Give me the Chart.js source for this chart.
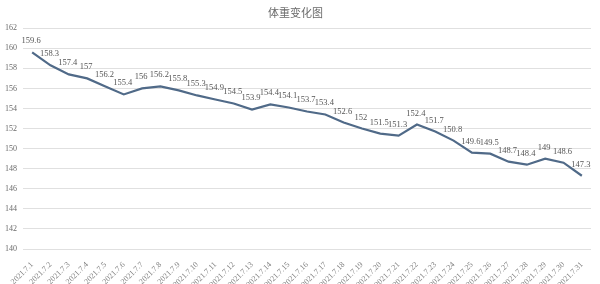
<!DOCTYPE html>
<html>
<head>
<meta charset="utf-8">
<script src="https://cdn.jsdelivr.net/npm/chart.js@4"></script>
<style>
  html, body { margin: 0; padding: 0; background: #fff; }
  #chart { display: block; }
</style>
</head>
<body>
<canvas id="chart" width="600" height="284"></canvas>
<script>
const days = [];
for (let d = 1; d <= 31; d++) days.push('2021.7.' + d);

const weights = [
    159.6, 158.3, 157.4, 157, 156.2, 155.4, 156, 156.2, 155.8, 155.3,
    154.9, 154.5, 153.9, 154.4, 154.1, 153.7, 153.4, 152.6, 152, 151.5,
    151.3, 152.4, 151.7, 150.8, 149.6, 149.5, 148.7, 148.4, 149, 148.6,
    147.3
];

const yMin = 140;
const yMax = 162;
const yStep = 2;

// simple value labels above each point
const pointLabels = {
    id: 'pointLabels',
    afterDatasetsDraw(chart) {
        const ctx = chart.ctx;
        const meta = chart.getDatasetMeta(0);
        ctx.save();
        ctx.font = '8.5px "Liberation Serif", serif';
        ctx.fillStyle = '#555555';
        ctx.textAlign = 'center';
        ctx.textBaseline = 'bottom';
        meta.data.forEach((pt, i) => {
            ctx.fillText(String(weights[i]), pt.x - 1, pt.y - 7);
        });
        ctx.restore();
    }
};

const ctx = document.getElementById('chart').getContext('2d');
new Chart(ctx, {
    type: 'line',
    data: {
        labels: days,
        datasets: [{
            data: weights,
            borderColor: '#506a88',
            borderWidth: 2.2,
            pointRadius: 0,
            tension: 0,
            fill: false
        }]
    },
    options: {
        responsive: false,
        animation: false,
        layout: { padding: { left: 0, right: 9, top: 0, bottom: 0 } },
        plugins: {
            legend: { display: false },
            tooltip: { enabled: false },
            title: {
                display: true,
                text: '体重变化图',
                color: '#6a6a6a',
                font: { family: '"Noto Sans CJK SC", serif', size: 11, weight: 'normal' },
                padding: { top: 6, bottom: 9 }
            }
        },
        scales: {
            x: {
                offset: true,
                grid: { display: false },
                border: { display: false },
                ticks: {
                    color: '#808080',
                    font: { family: '"Liberation Serif", serif', size: 8 },
                    maxRotation: 45,
                    minRotation: 45,
                    autoSkip: false,
                    padding: 3
                },
                afterFit: s => { s.height = 35; }
            },
            y: {
                min: yMin,
                max: yMax,
                grid: { color: '#e0e0e0', drawTicks: false },
                border: { display: false },
                ticks: {
                    stepSize: yStep,
                    color: '#6a6a6a',
                    font: { family: '"Liberation Serif", serif', size: 8 },
                    padding: 6
                },
                afterFit: s => { s.width = 23; }
            }
        }
    },
    plugins: [pointLabels]
});
</script>
</body>
</html>
